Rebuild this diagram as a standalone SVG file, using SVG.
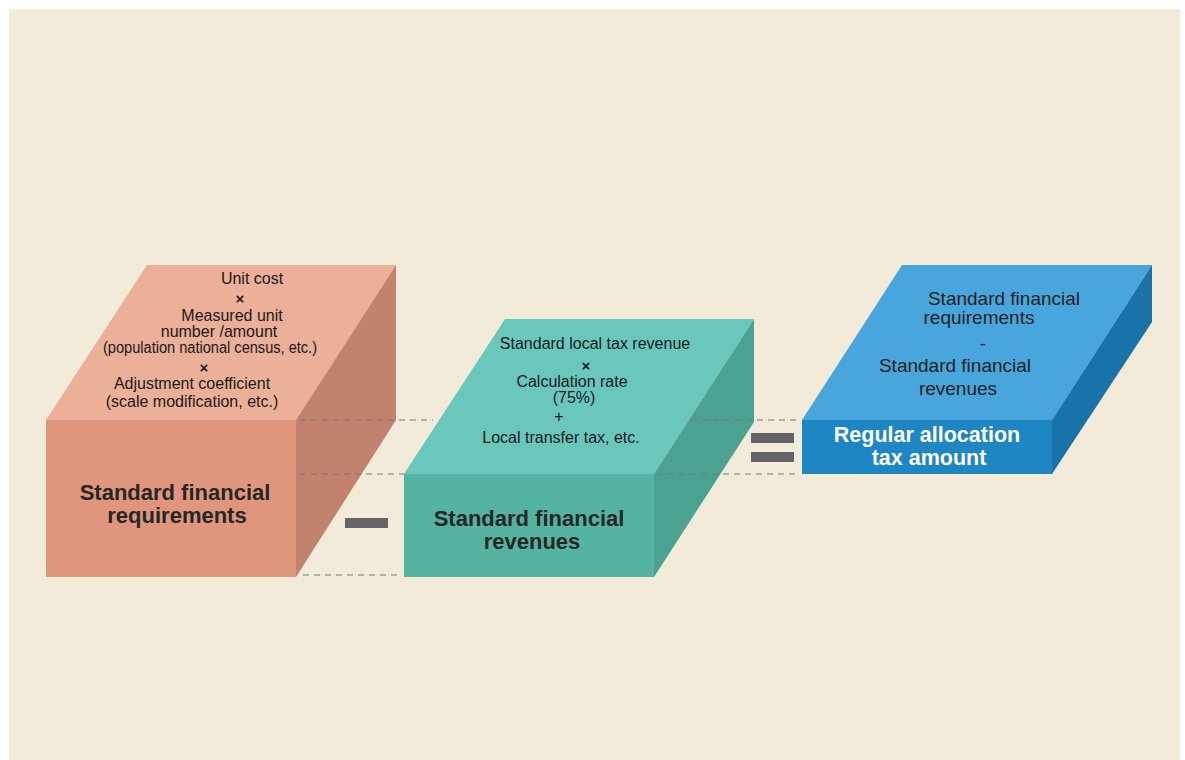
<svg xmlns="http://www.w3.org/2000/svg" width="1185" height="760" viewBox="0 0 1185 760">
<style>
.t{font-family:"Liberation Sans",Arial,sans-serif;font-size:16px;fill:#1a1a1a;text-anchor:middle}
.m{font-family:"Liberation Sans",Arial,sans-serif;font-size:19px;fill:#222;text-anchor:middle}
.b{font-family:"Liberation Sans",Arial,sans-serif;font-size:22px;font-weight:bold;fill:#262626;text-anchor:middle}
.w{font-family:"Liberation Sans",Arial,sans-serif;font-size:21.5px;font-weight:bold;fill:#ffffff;text-anchor:middle}
.x{font-family:"Liberation Sans",Arial,sans-serif;font-size:15px;font-weight:bold;fill:#1a1a1a;text-anchor:middle}
.d{stroke:#777777;stroke-width:1;stroke-dasharray:6,5;fill:none}
.op{fill:#646466}
</style>
<rect x="0" y="0" width="1185" height="760" fill="#ffffff"/>
<rect x="9" y="9" width="1171" height="751" fill="#F2EBD9"/>

<g id="box-requirements">
<polygon points="46,420 147,265 396,265 296,420" fill="#ECAF98"/>
<polygon points="296,420 396,265 396,420 296,577" fill="#C2826E"/>
<rect x="46" y="420" width="250" height="157" fill="#E0967C"/>
<text class="t" x="252" y="284">Unit cost</text>
<text class="x" x="240" y="304">×</text>
<text class="t" x="232" y="321">Measured unit</text>
<text class="t" x="219" y="337">number /amount</text>
<text class="t" x="210" y="353" textLength="214" lengthAdjust="spacingAndGlyphs">(population national census, etc.)</text>
<text class="x" x="204" y="373">×</text>
<text class="t" x="192" y="389">Adjustment coefficient</text>
<text class="t" x="192" y="407">(scale modification, etc.)</text>
<text class="b" x="175" y="500">Standard financial</text>
<text class="b" x="177" y="523">requirements</text>
</g>

<g id="box-revenues">
<polygon points="404,474 505,319 754,319 654,474" fill="#69C7BC"/>
<polygon points="654,474 754,319 754,422 654,577" fill="#4BA290"/>
<rect x="404" y="474" width="250" height="103" fill="#55B3A1"/>
<text class="t" x="595" y="349">Standard local tax revenue</text>
<text class="x" x="586" y="371">×</text>
<text class="t" x="572" y="387">Calculation rate</text>
<text class="t" x="574" y="403">(75%)</text>
<text class="t" x="559" y="422">+</text>
<text class="t" x="561" y="443">Local transfer tax, etc.</text>
<text class="b" x="529" y="526">Standard financial</text>
<text class="b" x="532" y="549">revenues</text>
</g>

<g id="box-allocation">
<polygon points="802,420 902,265 1152,265 1052,420" fill="#48A6DC"/>
<polygon points="1052,420 1152,265 1152,322 1052,474" fill="#1A73A8"/>
<rect x="802" y="420" width="250" height="54" fill="#1E86C2"/>
<text class="m" x="1004" y="305">Standard financial</text>
<text class="m" x="979" y="324">requirements</text>
<text class="m" x="983" y="350">-</text>
<text class="m" x="955" y="372">Standard financial</text>
<text class="m" x="958" y="395">revenues</text>
<text class="w" x="927" y="442">Regular allocation</text>
<text class="w" x="929" y="465">tax amount</text>
</g>

<g id="connectors">
<line class="d" x1="300" y1="420" x2="433" y2="420"/>
<line class="d" x1="691" y1="420" x2="800" y2="420"/>
<line class="d" x1="300" y1="474" x2="404" y2="474"/>
<line class="d" x1="657" y1="474" x2="800" y2="474"/>
<line class="d" x1="303" y1="575" x2="402" y2="575"/>
<rect class="op" x="345" y="518" width="43" height="10"/>
<rect class="op" x="751" y="433" width="43" height="10"/>
<rect class="op" x="751" y="452" width="43" height="10"/>
</g>
</svg>
